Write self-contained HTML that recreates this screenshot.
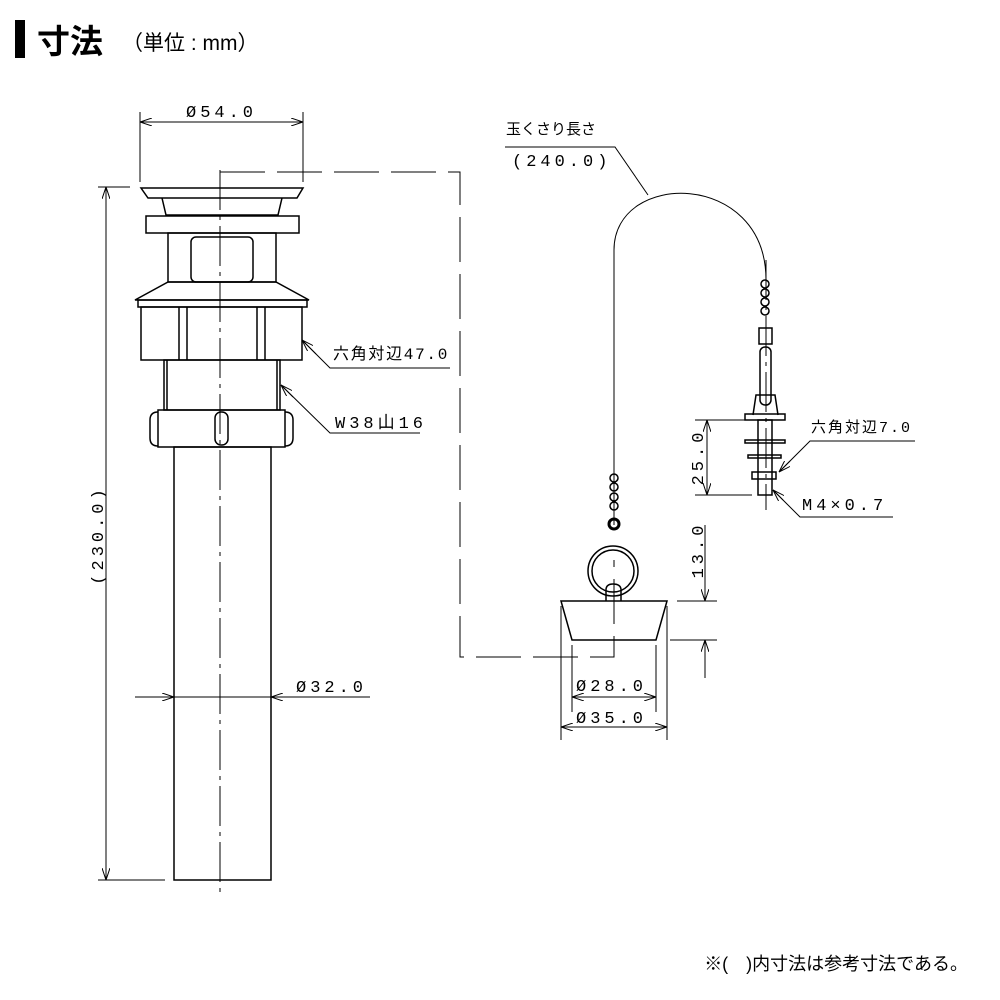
<!DOCTYPE html>
<html><head><meta charset="utf-8"><style>
html,body{margin:0;padding:0;background:#fff}
svg{display:block}
text{font-family:"Liberation Sans","Noto Sans CJK JP",sans-serif;fill:#000}
.d{font-family:"Liberation Mono","Noto Sans CJK JP",monospace;font-size:17px;letter-spacing:4px}
</style></head><body>
<svg width="1000" height="1000" viewBox="0 0 1000 1000" xmlns="http://www.w3.org/2000/svg">
<defs>
<marker id="a" viewBox="0 0 12 8" refX="12" refY="4" markerWidth="12" markerHeight="8" orient="auto-start-reverse" markerUnits="userSpaceOnUse"><path d="M0,0 L12,4 L0,8" fill="none" stroke="#000" stroke-width="1"/></marker>
</defs>
<rect x="15" y="20" width="10" height="38" fill="#000"/>
<text x="37" y="53" font-size="33" font-weight="bold">寸法</text>
<text x="122" y="50" font-size="21">（単位 : mm）</text>

<g fill="none" stroke="#000" stroke-width="1.5">
<path d="M141,188 L303,188 L297,198 L148,198 Z"/>
<path d="M162,198 L166,215 L278,215 L282,198"/>
<rect x="146" y="216" width="153" height="17"/>
<rect x="168" y="233" width="108" height="49"/>
<rect x="191" y="237" width="62" height="45" rx="5"/>
<path d="M168,282 L276,282 L309,300 L135,300 Z"/>
<rect x="138" y="300" width="169" height="7"/>
<rect x="141" y="307" width="161" height="53"/>
<path d="M179,307V360M187,307V360M257,307V360M265,307V360"/>
<rect x="164" y="360" width="116" height="50"/>
<path d="M167,360V410M277,360V410"/>
<rect x="158" y="410" width="127" height="37"/>
<path d="M158,412 Q150,412 150,420 L150,438 Q150,446 158,446"/>
<path d="M285,412 Q293,412 293,420 L293,438 Q293,446 285,446"/>
<rect x="215" y="412" width="13" height="33" rx="6"/>
<rect x="174" y="447" width="97" height="433"/>
<circle cx="613" cy="571" r="25"/>
<circle cx="613" cy="571" r="21"/>
<path d="M606,601 L606,590 Q606,584 613,584 Q621,584 621,590 L621,601"/>
<path d="M561,601 L667,601 L656,640 L572,640 Z"/>
<circle cx="614" cy="478" r="4"/><circle cx="614" cy="487" r="4"/><circle cx="614" cy="497" r="4"/><circle cx="614" cy="506" r="4"/>
<circle cx="614" cy="524" r="5" stroke-width="3"/>
<circle cx="765" cy="284" r="4"/><circle cx="765" cy="293" r="4"/><circle cx="765" cy="302" r="4"/><circle cx="765" cy="311" r="4"/>
<rect x="759" y="328" width="13" height="16"/>
<rect x="760" y="347" width="11" height="58" rx="5"/>
<path d="M753,415 L756,395 L775,395 L778,415"/>
<rect x="745" y="414" width="40" height="6"/>
<rect x="758" y="420" width="14" height="75"/>
<rect x="745" y="440" width="40" height="3"/>
<rect x="748" y="455" width="33" height="3"/>
<rect x="752" y="472" width="24" height="7"/>
</g>

<g fill="none" stroke="#000" stroke-width="1">
<path d="M220,170 V895" stroke-dasharray="40,6,4,6"/>
<path d="M220,172 H460 V657 H614 V560" stroke-dasharray="45,12"/>
<path d="M614,525 V250 C614,170 766,170 766,280"/>
<path d="M766,260 V510" stroke-dasharray="40,6,4,6"/>
<path d="M140,112 V182 M303,112 V182"/>
<path d="M140,122 H303" marker-start="url(#a)" marker-end="url(#a)"/>
<path d="M98,187 H130 M98,880 H165"/>
<path d="M106,187 V880" marker-start="url(#a)" marker-end="url(#a)"/>
<path d="M135,697 H174" marker-end="url(#a)"/>
<path d="M370,697 H271" marker-end="url(#a)"/>
<path d="M174,697 H271"/>
<path d="M302,340 L330,368 H450"/>
<path d="M316,354 L302,340" marker-end="url(#a)"/>
<path d="M293,397 L281,385" marker-end="url(#a)"/>
<path d="M281,385 L330,433 H420"/>
<path d="M505,147 H615 L648,195"/>
<path d="M572,645 V712 M656,645 V712 M561,606 V740 M667,606 V740"/>
<path d="M572,697 H656" marker-start="url(#a)" marker-end="url(#a)"/>
<path d="M561,727 H667" marker-start="url(#a)" marker-end="url(#a)"/>
<path d="M677,601 H717 M670,640 H717"/>
<path d="M705,525 V601" marker-end="url(#a)"/>
<path d="M705,678 V640" marker-end="url(#a)"/>
<path d="M695,420 H752 M695,495 H752"/>
<path d="M707,420 V495" marker-start="url(#a)" marker-end="url(#a)"/>
<path d="M915,441 H810 L779,472"/>
<path d="M790,461 L779,472" marker-end="url(#a)"/>
<path d="M893,517 H800 L773,490"/>
<path d="M783,500 L773,490" marker-end="url(#a)"/>
</g>

<text class="d" x="186" y="117">Ø54.0</text>
<text class="d" transform="translate(103,535) rotate(-90)" text-anchor="middle">(230.0)</text>
<text class="d" x="296" y="692">Ø32.0</text>
<text class="d" x="333" y="359" style="font-size:16px;letter-spacing:1.7px">六角対辺47.0</text>
<text class="d" x="335" y="428">W38山16</text>
<text x="506" y="134" font-size="15">玉くさり長さ</text>
<text class="d" x="512" y="166">(240.0)</text>
<text class="d" x="576" y="691">Ø28.0</text>
<text class="d" x="576" y="723">Ø35.0</text>
<text class="d" transform="translate(703,550) rotate(-90)" text-anchor="middle">13.0</text>
<text class="d" transform="translate(703,457) rotate(-90)" text-anchor="middle">25.0</text>
<text class="d" x="811" y="432" style="font-size:15px;letter-spacing:2px">六角対辺7.0</text>
<text class="d" x="802" y="510">M4×0.7</text>
<text x="968" y="970" font-size="18" text-anchor="end">※(　)内寸法は参考寸法である。</text>
</svg>
</body></html>
